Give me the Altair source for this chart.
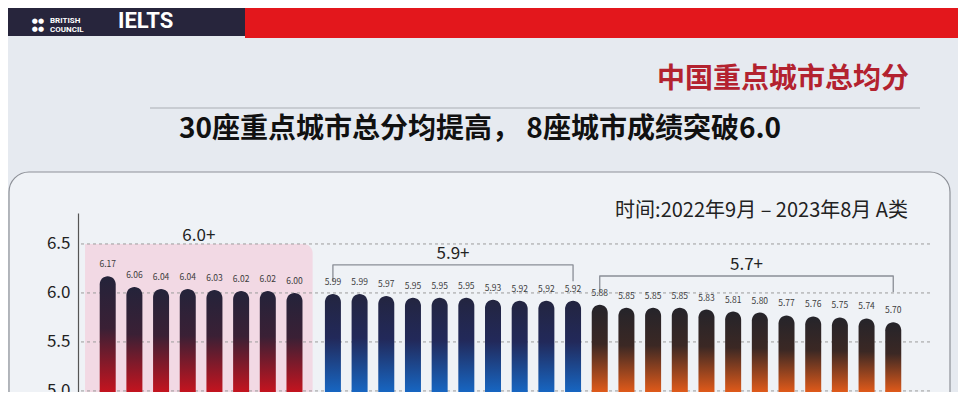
import altair as alt
import pandas as pd

# ---------------- data ----------------
scores = [6.17, 6.06, 6.04, 6.04, 6.03, 6.02, 6.02, 6.00,
          5.99, 5.99, 5.97, 5.95, 5.95, 5.95, 5.93, 5.92, 5.92, 5.92,
          5.88, 5.85, 5.85, 5.85, 5.83, 5.81, 5.80, 5.77, 5.76, 5.75, 5.74, 5.70]
group_labels = ["6.0+", "5.9+", "5.7+"]
group_sizes = [8, 10, 12]
y_ticks = [5.0, 5.5, 6.0, 6.5]
title_text = "中国重点城市总均分"
subtitle_text = "30座重点城市总分均提高， 8座城市成绩突破6.0"
period_text = "时间:2022年9月 – 2023年8月 A类"

# ---------------- layout constants ----------------
FONT = "Noto Sans CJK SC"
W, H = 852, 179
GROUP_GAP = 0.44
Y_MIN, Y_MAX = 4.989, 6.816
label_level = {"6.0+": 6.58, "5.9+": 6.40, "5.7+": 6.286}
bracket_level = {"5.9+": (6.286, 6.12), "5.7+": (6.173, 6.01)}
grad_stops = {
    "6.0+": ["#24233a", "#3a2035", "#c4141f"],
    "5.9+": ["#232540", "#22295a", "#1766c2"],
    "5.7+": ["#25242a", "#3b2824", "#e05a1a"],
}

rows = []
i = 0
for g, (lab, n) in enumerate(zip(group_labels, group_sizes)):
    for k in range(n):
        rows.append(dict(rank=i + 1, score=scores[i], group=lab,
                         slot=i + (GROUP_GAP if g > 0 else 0.0)))
        i += 1
df = pd.DataFrame(rows)

grp = df.groupby("group", sort=False)["slot"].agg(["min", "max"]).reset_index()
grp["center"] = (grp["min"] + grp["max"]) / 2
grp["level"] = grp["group"].map(label_level)
first = grp["group"] == "6.0+"
grp.loc[first, "center"] = (grp.loc[first, "min"] - 0.85 + grp.loc[first, "max"] + 0.68) / 2

xs = alt.Scale(domain=[-0.926, 30.63], nice=False, zero=False)
ys = alt.Scale(domain=[Y_MIN, Y_MAX], nice=False, zero=False)
y_axis = alt.Axis(values=y_ticks, format=".1f", title=None, grid=False, ticks=False,
                  labelFontSize=17, labelColor="#222222", labelFont=FONT, labelPadding=8,
                  domainColor="#555555", domainWidth=1.2, zindex=1)

one = pd.DataFrame({"k": [0]})

def deco_rect(x, x2, y, y2, **kw):
    return alt.Chart(one).mark_rect(**kw).encode(
        x=alt.value(x), x2=alt.value(x2), y=alt.value(y), y2=alt.value(y2))

def deco_text(text, x, y, **kw):
    return alt.Chart(one).mark_text(text=text, **kw).encode(x=alt.value(x), y=alt.value(y))

# ---------------- decorations ----------------
panel = deco_rect(-69, 872, -41, 230, fill="#eff2f6", stroke="#8d9097", strokeWidth=1.2,
                  cornerRadius=20)
header_dark = deco_rect(-70, 167, -205, -177, color="#27253c")
header_red = deco_rect(167, 880, -205, -175, color="#e3171c")
dots = deco_text("●●\n●●", -34, -192, color="white", fontSize=7, font="DejaVu Sans",
                 align="right", lineBreak="\n", lineHeight=8)
brand = deco_text("BRITISH\nCOUNCIL", -28, -192, color="white", fontSize=8, fontWeight="bold",
                  font="Roboto", align="left", lineBreak="\n", lineHeight=9)
ielts = deco_text("IELTS", 40, -192, color="white", fontSize=22, fontWeight="bold",
                  font="Roboto", align="left")
title = deco_text(title_text, 705, -133, color="#b3222f", fontSize=28, fontWeight="bold",
                  font=FONT)
title_rule = alt.Chart(one).mark_rule(color="#a9adb3", strokeWidth=1.2).encode(
    x=alt.value(72), x2=alt.value(842), y=alt.value(-105))
subtitle = deco_text(subtitle_text, 402, -83, color="#111111", fontSize=28, fontWeight="bold",
                     font=FONT)
period = deco_text(period_text, 830, -2, color="#222222", fontSize=20, font=FONT, align="right")

# ---------------- data layers ----------------
pink = alt.Chart(grp[first]).transform_calculate(
    x1="datum.min - 0.85", x2="datum.max + 0.68", top="6.5", bot=str(Y_MIN)
).mark_rect(color="#f2d9e4", cornerRadiusTopRight=9).encode(
    x=alt.X("x1:Q", scale=xs, axis=None), x2="x2:Q",
    y=alt.Y("top:Q", scale=ys, axis=y_axis), y2="bot:Q")

grid = alt.Chart(pd.DataFrame({"v": y_ticks})).mark_rule(
    strokeDash=[3, 3], color="#9c9c9c", strokeWidth=1).encode(
    y=alt.Y("v:Q", scale=ys, axis=y_axis))

br_rows = []
for lab in ["5.9+", "5.7+"]:
    r = grp[grp["group"] == lab].iloc[0]
    hi, lo = bracket_level[lab]
    for o, (sx, sy) in enumerate([(r["min"], lo), (r["min"], hi), (r["max"], hi), (r["max"], lo)]):
        br_rows.append(dict(group=lab, order=o, slot=sx, level=sy))
brackets = alt.Chart(pd.DataFrame(br_rows)).mark_line(
    color="#8a8e96", strokeWidth=1.3, strokeJoin="round").encode(
    x=alt.X("slot:Q", scale=xs, axis=None), y=alt.Y("level:Q", scale=ys, axis=y_axis),
    detail="group:N", order="order:Q")

group_text = alt.Chart(grp).mark_text(fontSize=17, color="#222222", font=FONT).encode(
    x=alt.X("center:Q", scale=xs, axis=None), y=alt.Y("level:Q", scale=ys, axis=y_axis),
    text="group:N")

bar_layers = []
for lab in group_labels:
    c = grad_stops[lab]
    grad = alt.Gradient(gradient="linear", x1=0, x2=0, y1=0, y2=1, stops=[
        alt.GradientStop(color=c[0], offset=0),
        alt.GradientStop(color=c[1], offset=0.45),
        alt.GradientStop(color=c[2], offset=1)])
    bar_layers.append(
        alt.Chart(df[df["group"] == lab]).mark_bar(
            size=16, cornerRadiusTopLeft=8, cornerRadiusTopRight=8, color=grad, clip=True
        ).encode(
            x=alt.X("slot:Q", scale=xs, axis=None),
            y=alt.Y("score:Q", scale=ys, axis=y_axis),
            y2=alt.datum(Y_MIN)))

values = alt.Chart(df).mark_text(fontSize=8.5, color="#3c3c3c", dy=-7, baseline="bottom",
                                 font=FONT).encode(
    x=alt.X("slot:Q", scale=xs, axis=None),
    y=alt.Y("score:Q", scale=ys, axis=y_axis),
    text=alt.Text("score:Q", format=".2f"))

chart = alt.layer(
    panel, header_dark, header_red, dots, brand, ielts,
    title, title_rule, subtitle, period,
    pink, grid, brackets, group_text, *bar_layers, values
).properties(
    width=W, height=H,
    padding={"left": 70, "top": 205, "right": 28, "bottom": 0},
    autosize=alt.AutoSizeParams(type="none"),
).configure(background="#e6eaf0").configure_view(stroke=None)

chart.save("out.html", embed_options={"renderer": "svg", "actions": False})
